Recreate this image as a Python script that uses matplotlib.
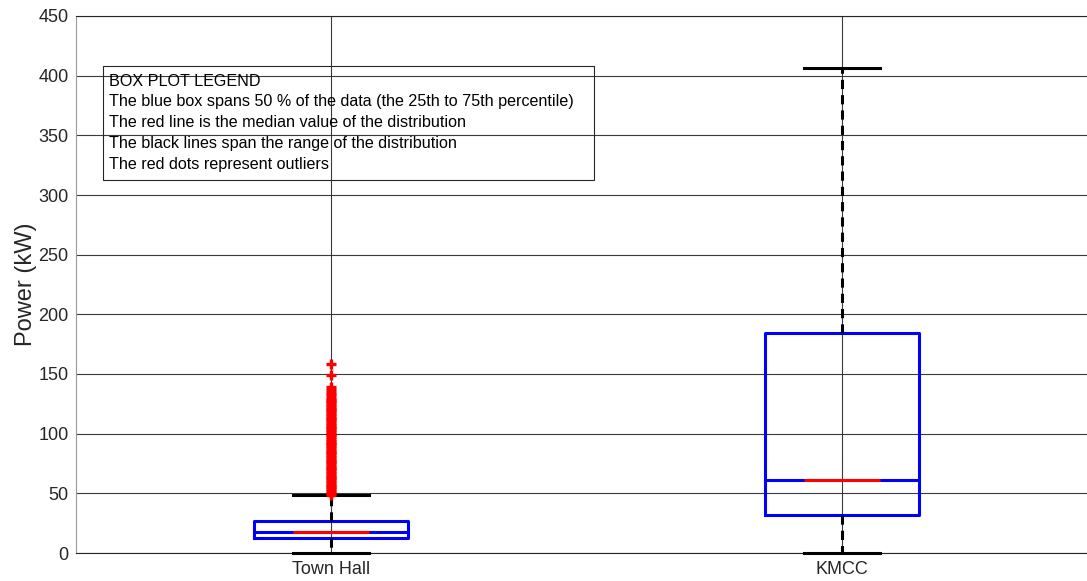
import matplotlib
matplotlib.use("Agg")
import matplotlib.pyplot as plt
from matplotlib.patches import Rectangle

plt.rcParams['font.family'] = ['Liberation Sans', 'DejaVu Sans']

# Box plot summary statistics (kW)
sites = ["Town Hall", "KMCC"]
whisker_low = [0.0, 0.0]
q1 = [12.6, 31.9]
medians = [17.6, 61.2]
q3 = [26.8, 184.4]
whisker_high = [48.6, 406.5]

# Town Hall outliers (kW)
town_hall_outliers = [
    49.0, 50.5, 52.0, 53.5, 55.0, 56.5, 58.0, 59.5, 61.0, 62.5,
    64.0, 65.5, 67.0, 68.5, 70.0, 71.5, 73.0, 74.5, 76.0, 77.5,
    79.0, 80.5, 82.0, 83.5, 85.0, 86.5, 88.0, 89.5, 91.0, 92.5,
    94.0, 95.5, 97.0, 98.5, 100.0, 101.5, 103.0, 104.5, 106.0, 107.5,
    109.0, 110.5, 112.0, 113.5, 115.0, 116.5, 118.0, 119.5, 121.0, 122.5,
    124.0, 125.5, 127.0, 128.5, 130.0, 132.0, 134.0, 137.0, 139.5, 149.0, 158.5,
]
outliers = [town_hall_outliers, []]

legend_lines = [
    "BOX PLOT LEGEND",
    "The blue box spans 50 % of the data (the 25th to 75th percentile)",
    "The red line is the median value of the distribution",
    "The black lines span the range of the distribution",
    "The red dots represent outliers",
]

fig = plt.figure(figsize=(10.87, 5.81), dpi=100)
left = 75.5 / 1087
bottom = (581 - 553) / 581
width = (1097.5 - 75.5) / 1087
height = (553 - 16) / 581
ax = fig.add_axes([left, bottom, width, height])

stats = []
for i, name in enumerate(sites):
    stats.append(dict(label=name, whislo=whisker_low[i], q1=q1[i], med=medians[i],
                      q3=q3[i], whishi=whisker_high[i], fliers=outliers[i]))

positions = [1, 2]
parts = ax.bxp(stats, positions=positions, widths=0.3, capwidths=0.15,
               boxprops=dict(color='blue', linewidth=2.2),
               whiskerprops=dict(color='black', linewidth=2.2, linestyle=(0, (3, 2))),
               capprops=dict(color='black', linewidth=2.2),
               medianprops=dict(color='blue', linewidth=2.2),
               flierprops=dict(marker='+', markeredgecolor='red', markersize=7,
                               markeredgewidth=2.4, linestyle='none'),
               zorder=3)
for artist in parts['caps'] + parts['whiskers']:
    artist.set_clip_on(False)

# red centre section of each median line
ax.hlines(medians, [p - 0.075 for p in positions], [p + 0.075 for p in positions],
          colors='red', linewidth=2.2, zorder=4)

ax.set_xlim(0.5, 2.5)
ax.set_ylim(0, 450)
ax.set_yticks(range(0, 451, 50))
ax.set_xticks(positions)
ax.set_xticklabels(sites)
ax.tick_params(axis='both', labelsize=13, colors='#262626', length=0, pad=6)
ax.tick_params(axis='y', pad=5)
ax.set_ylabel("Power (kW)", fontsize=17, color='#262626', labelpad=1)

ax.grid(True, color='#262626', linewidth=0.8, alpha=0.9)
ax.set_axisbelow(True)
ax.spines['right'].set_visible(False)
ax.spines['left'].set_color('#999999')
ax.spines['top'].set_color('#262626')
ax.spines['bottom'].set_color('#262626')
for s in ax.spines.values():
    s.set_linewidth(0.8)

# text legend box
ax.add_patch(Rectangle((0.554, 312.6), 1.515 - 0.554, 408.2 - 312.6,
                       facecolor='none', edgecolor='#262626', linewidth=0.8, zorder=5))
for i, line in enumerate(legend_lines):
    ax.text(0.566, 395.5 - i * 17.4, line, fontsize=11.6, va='center', ha='left',
            color='black', zorder=6)

fig.savefig("out.png", dpi=100)
